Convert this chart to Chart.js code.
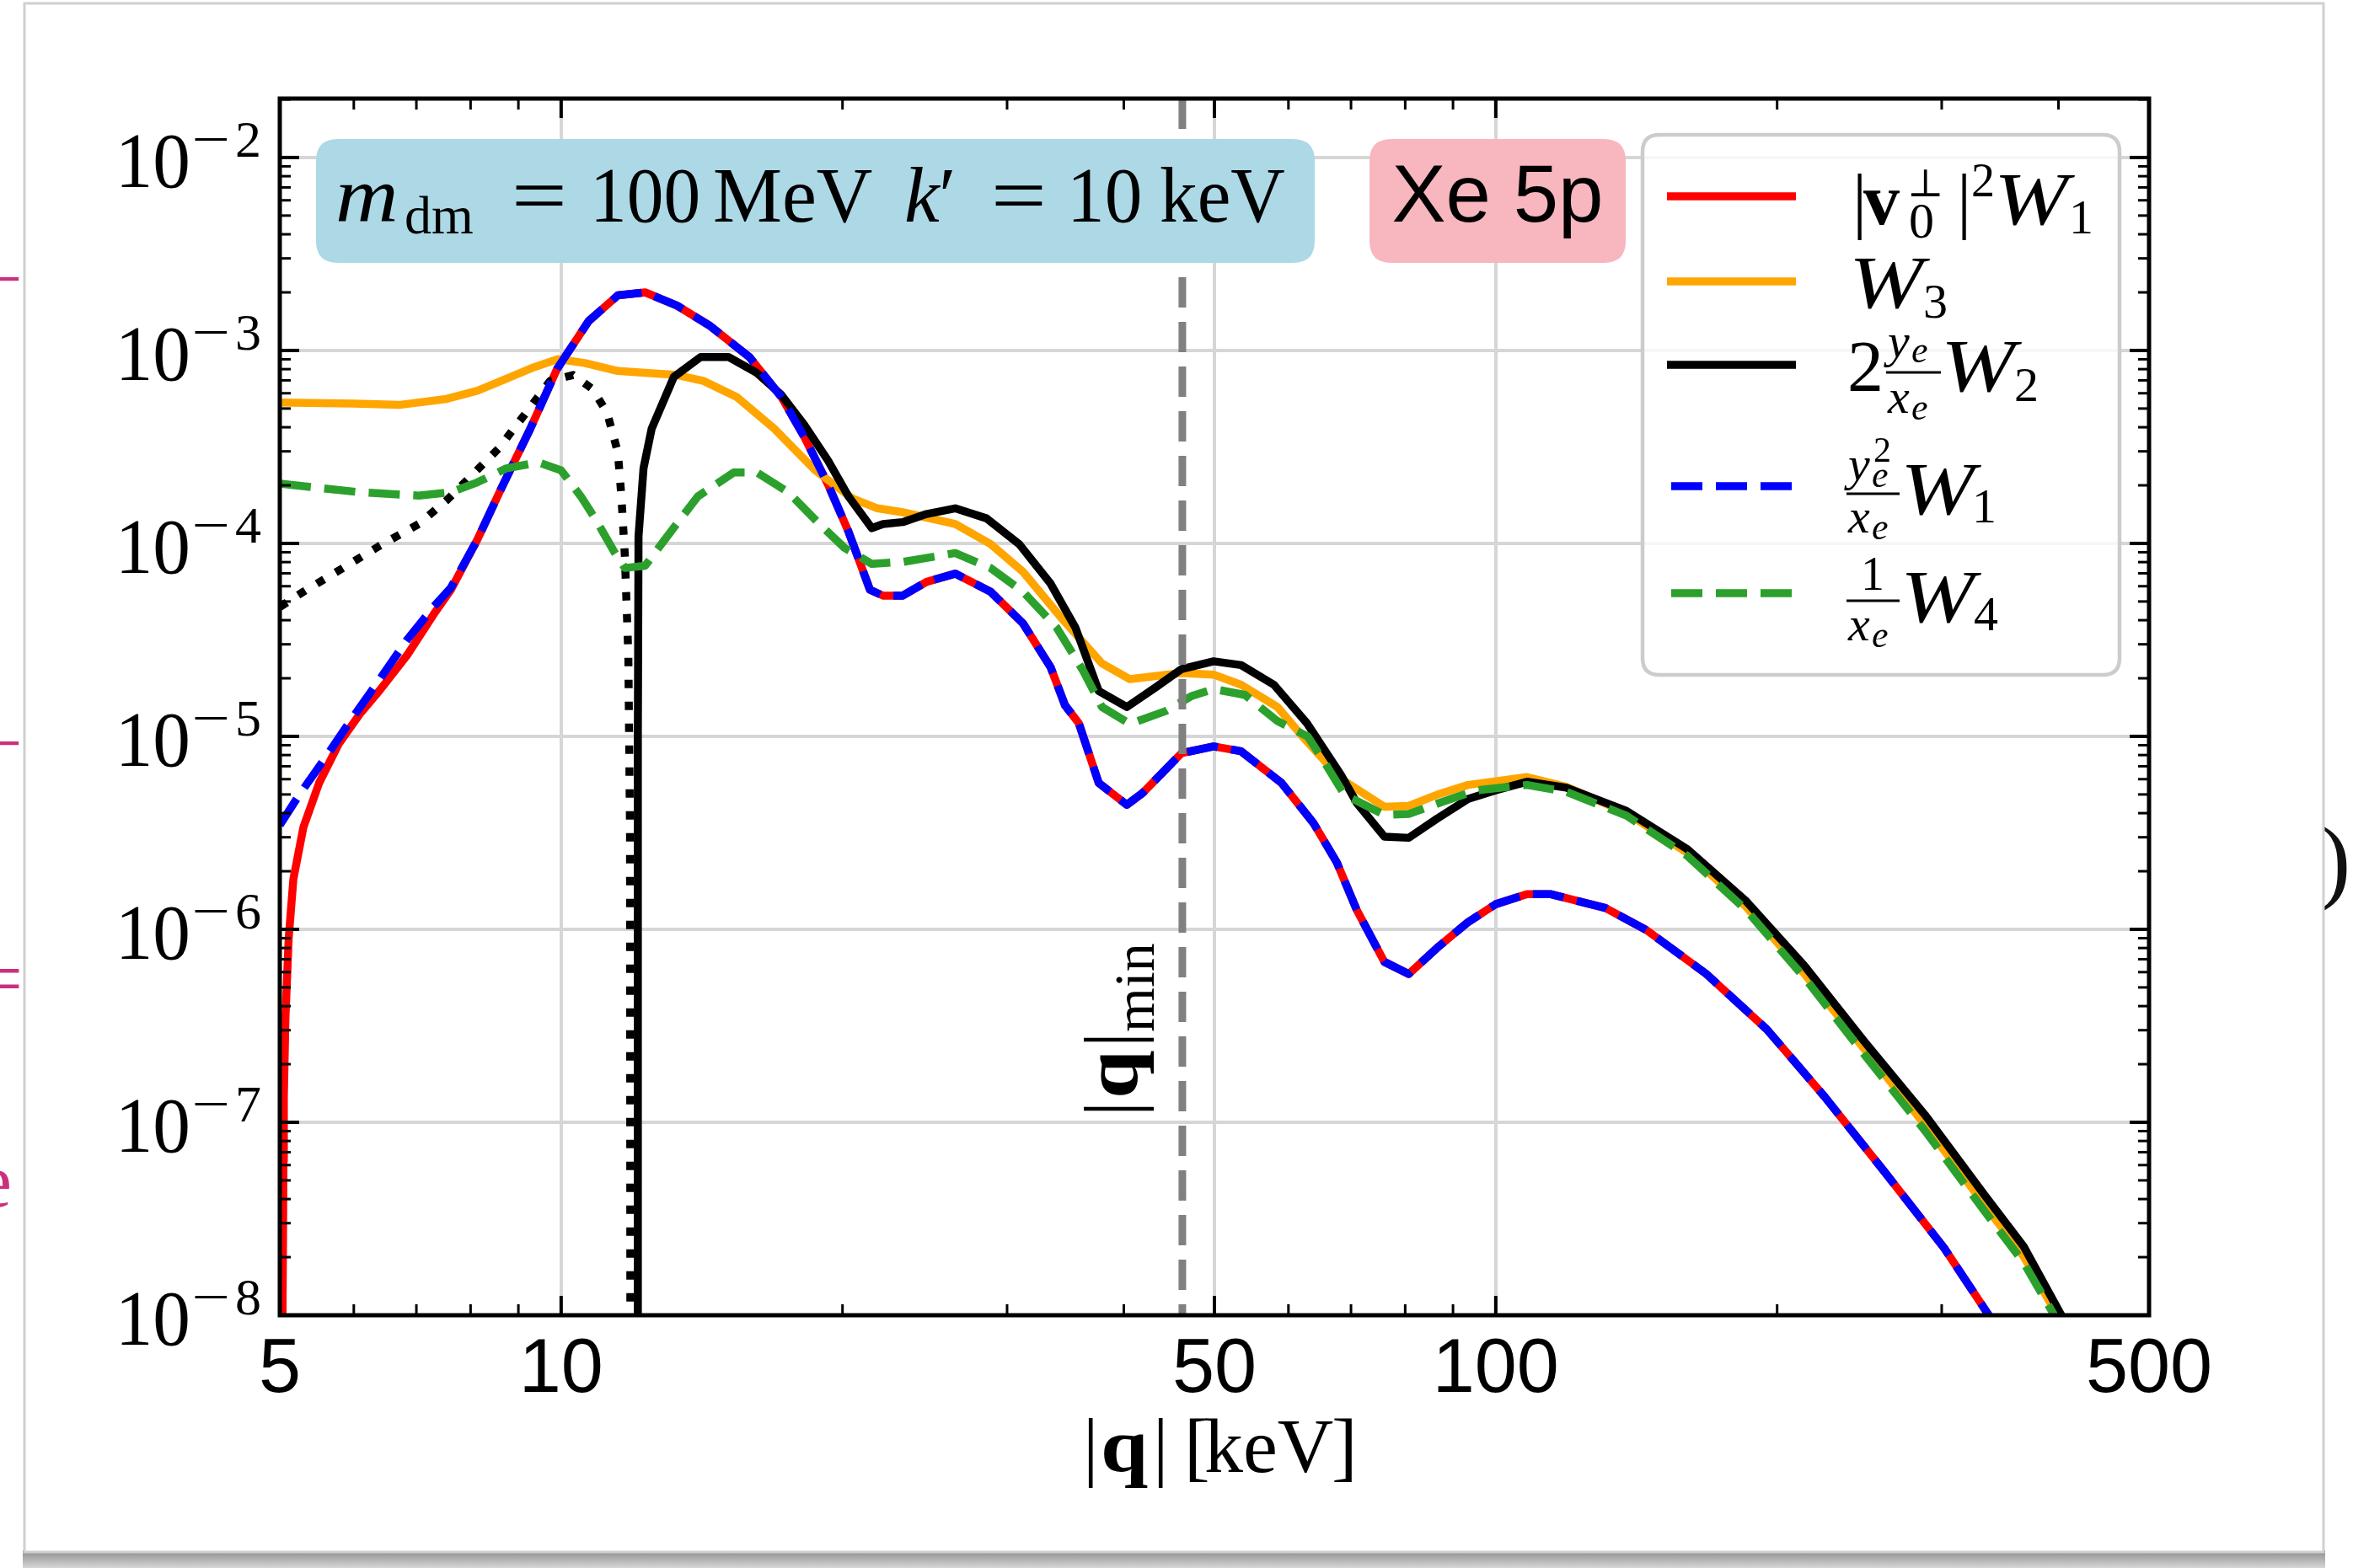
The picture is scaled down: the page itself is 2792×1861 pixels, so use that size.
<!DOCTYPE html>
<html>
<head>
<meta charset="utf-8">
<title>Xe 5p response functions</title>
<script src="https://cdn.jsdelivr.net/npm/chart.js@4.4.0/dist/chart.umd.min.js"></script>
<style>
  html, body { margin: 0; padding: 0; background: #ffffff; overflow: hidden; }
  canvas { display: block; }
</style>
</head>
<body>
<canvas id="plot" width="2792" height="1861"></canvas>
<script>
// |q| in keV and the curve values
const qW1 = [8.13, 8.63, 9.27, 9.9, 10.7, 11.5, 12.3, 13.3, 14.4, 15.9, 17.2, 18.2, 19.3, 20.3, 21.4, 22.1, 23.2, 24.6, 26.4, 28.8, 31.2, 33.4, 34.6, 35.8, 37.6, 40.3, 41.9, 46.1, 49.9, 53.4, 59, 63.8, 67.6, 71, 76, 80.7, 86.5, 93.4, 100, 108, 114.6, 131, 145, 168, 195, 225, 261, 302, 336, 345];
const w1 = [1.04e-4, 1.93e-4, 3.94e-4, 8.02e-4, 1.42e-3, 1.93e-3, 2.0e-3, 1.71e-3, 1.35e-3, 9.25e-4, 5.75e-4, 3.57e-4, 2.02e-4, 1.15e-4, 5.75e-5, 5.36e-5, 5.36e-5, 6.32e-5, 6.97e-5, 5.62e-5, 3.85e-5, 2.28e-5, 1.45e-5, 1.17e-5, 5.73e-6, 4.42e-6, 5.09e-6, 8.18e-6, 8.87e-6, 8.37e-6, 5.73e-6, 3.56e-6, 2.22e-6, 1.26e-6, 6.78e-7, 5.87e-7, 8.0e-7, 1.09e-6, 1.35e-6, 1.52e-6, 1.52e-6, 1.29e-6, 9.9e-7, 5.87e-7, 3.03e-7, 1.35e-7, 5.48e-8, 2.22e-8, 1.02e-8, 8.3e-9];

// low-q ends where |v0|^2 W1 and y^2/x W1 differ
const qRedLow = [5.03, 5.04, 5.045, 5.05, 5.07, 5.11, 5.17, 5.3, 5.51, 5.78, 6.1, 6.4, 6.84, 7.3, 7.62];
const redLow = [6.3e-9, 2.5e-8, 6.3e-8, 1.35e-7, 3.47e-7, 8.9e-7, 1.82e-6, 3.39e-6, 5.75e-6, 9.12e-6, 1.32e-5, 1.74e-5, 2.63e-5, 4.27e-5, 5.75e-5];
const qBlueLow = [5.0, 5.25, 5.62, 5.96, 6.3, 6.84, 7.3, 7.62];
const blueLow = [3.47e-6, 5.01e-6, 8.0e-6, 1.22e-5, 1.78e-5, 3.16e-5, 4.68e-5, 5.89e-5];

const qW3 = [5.0, 6.0, 6.71, 7.54, 8.13, 8.7, 9.36, 9.92, 10.6, 11.5, 12.4, 13.3, 14.2, 15.4, 16.9, 18.7, 20.5, 21.8, 23.2, 26.4, 28.8, 31.2, 34.4, 37.9, 40.6, 46.1, 49.9, 53.4, 58.4, 62, 68.3, 76, 80.7, 86.5, 93.4, 108, 119, 138, 160, 185, 214, 248, 288, 333, 367, 397, 408];
const w3 = [5.37e-4, 5.3e-4, 5.22e-4, 5.61e-4, 6.17e-4, 7.08e-4, 8.2e-4, 9.02e-4, 8.61e-4, 7.83e-4, 7.64e-4, 7.46e-4, 6.95e-4, 5.75e-4, 3.94e-4, 2.39e-4, 1.71e-4, 1.52e-4, 1.45e-4, 1.26e-4, 9.93e-5, 7.13e-5, 4.04e-5, 2.39e-5, 1.98e-5, 2.13e-5, 2.09e-5, 1.85e-5, 1.42e-5, 1.01e-5, 6.01e-6, 4.32e-6, 4.36e-6, 4.98e-6, 5.6e-6, 6.15e-6, 5.47e-6, 4.02e-6, 2.5e-6, 1.32e-6, 5.87e-7, 2.39e-7, 9.68e-8, 3.75e-8, 2.02e-8, 1.04e-8, 8.3e-9];

const qW2 = [12.07, 12.08, 12.1, 12.25, 12.5, 13.2, 14.1, 15.1, 16.2, 17.2, 18.2, 19.3, 20.3, 21.5, 22.1, 23.2, 24.6, 26.4, 28.5, 30.9, 33.4, 35.5, 37.6, 40.3, 43.3, 46.1, 49.9, 53.4, 57.9, 62.8, 68.3, 71, 76, 80.7, 86.5, 93.4, 100, 108, 119, 138, 160, 185, 214, 248, 288, 333, 367, 401, 412];
const w2 = [6.3e-9, 1.0e-5, 1.09e-4, 2.45e-4, 3.94e-4, 7.29e-4, 9.25e-4, 9.25e-4, 7.64e-4, 5.89e-4, 4.12e-4, 2.69e-4, 1.75e-4, 1.2e-4, 1.26e-4, 1.29e-4, 1.42e-4, 1.52e-4, 1.35e-4, 9.93e-5, 6.18e-5, 3.66e-5, 1.72e-5, 1.42e-5, 1.8e-5, 2.23e-5, 2.45e-5, 2.34e-5, 1.85e-5, 1.17e-5, 6.31e-6, 4.52e-6, 3.02e-6, 2.98e-6, 3.74e-6, 4.74e-6, 5.26e-6, 5.82e-6, 5.42e-6, 4.11e-6, 2.62e-6, 1.41e-6, 6.46e-7, 2.62e-7, 1.09e-7, 4.23e-8, 2.28e-8, 1.04e-8, 8.3e-9];

// negative part of 2 y/x W2, drawn dotted as its absolute value
const qW2neg = [5.0, 5.3, 5.8, 6.39, 7.04, 7.54, 8.0, 8.57, 9.17, 9.73, 10.3, 10.8, 11.2, 11.5, 11.6, 11.7, 11.8, 11.85, 11.86];
const w2neg = [4.68e-5, 5.62e-5, 7.3e-5, 9.7e-5, 1.26e-4, 1.67e-4, 2.22e-4, 3.1e-4, 4.75e-4, 6.95e-4, 7.46e-4, 6.32e-4, 4.75e-4, 2.96e-4, 1.75e-4, 8.6e-5, 2.63e-5, 3.16e-6, 6.3e-9];

const qW4 = [5.0, 6.1, 7.04, 7.62, 8.13, 8.74, 9.45, 10.0, 10.5, 10.9, 11.4, 11.7, 12.3, 13.1, 14.0, 15.3, 16.2, 17.5, 18.9, 20.1, 21.5, 23.2, 26.4, 28.8, 31.2, 33.9, 36.2, 37.9, 40.6, 44.3, 47.3, 49.9, 53.9, 58.4, 62.9, 65.7, 68.9, 76, 80.7, 87, 95.5, 108, 119, 138, 160, 185, 214, 248, 288, 333, 367, 394, 405];
const w4 = [2.04e-4, 1.84e-4, 1.77e-4, 1.84e-4, 2.07e-4, 2.45e-4, 2.63e-4, 2.39e-4, 1.75e-4, 1.32e-4, 9.03e-5, 7.46e-5, 7.66e-5, 1.15e-4, 1.75e-4, 2.33e-4, 2.33e-4, 1.84e-4, 1.26e-4, 9.48e-5, 7.83e-5, 8.02e-5, 8.91e-5, 7.46e-5, 5.62e-5, 3.66e-5, 2.18e-5, 1.42e-5, 1.16e-5, 1.35e-5, 1.62e-5, 1.76e-5, 1.64e-5, 1.2e-5, 1.0e-5, 7.24e-6, 4.98e-6, 3.92e-6, 3.96e-6, 4.52e-6, 5.26e-6, 5.6e-6, 5.16e-6, 3.88e-6, 2.42e-6, 1.27e-6, 5.61e-7, 2.24e-7, 9.02e-8, 3.49e-8, 1.88e-8, 1.04e-8, 8.3e-9];

const qMin = 46.2;

const xRange = [5, 500];
const yRange = [1e-8, 2.02e-2];
const xTicks = [5, 10, 50, 100, 500];
const xTickLabels = ['5', '10', '50', '100', '500'];
const xMinorTicks = [6, 7, 8, 9, 20, 30, 40, 60, 70, 80, 90, 200, 300, 400];
const yTicks = [1e-8, 1e-7, 1e-6, 1e-5, 1e-4, 1e-3, 1e-2];
const yTickExps = ['8', '7', '6', '5', '4', '3', '2'];

const SERIF = '"Liberation Serif", "DejaVu Serif", serif';
const SANS = '"Liberation Sans", Arial, sans-serif';

function serif(size, style) { return (style || '') + ' ' + size + 'px ' + SERIF; }
function sans(size) { return size + 'px ' + SANS; }

function pts(qs, vs) {
    return qs.map((q, i) => ({ x: q, y: vs[i] }));
}

function txt(ctx, s, x, y, font, opts) {
    opts = opts || {};
    ctx.save();
    ctx.font = font;
    ctx.fillStyle = opts.color || '#000';
    ctx.textAlign = opts.align || 'left';
    ctx.textBaseline = 'alphabetic';
    ctx.translate(x, y);
    if (opts.sx) ctx.scale(opts.sx, 1);
    ctx.fillText(s, 0, 0);
    ctx.restore();
}

function roundRect(ctx, x, y, w, h, r) {
    ctx.beginPath();
    ctx.moveTo(x + r, y);
    ctx.lineTo(x + w - r, y);
    ctx.quadraticCurveTo(x + w, y, x + w, y + r);
    ctx.lineTo(x + w, y + h - r);
    ctx.quadraticCurveTo(x + w, y + h, x + w - r, y + h);
    ctx.lineTo(x + r, y + h);
    ctx.quadraticCurveTo(x, y + h, x, y + h - r);
    ctx.lineTo(x, y + r);
    ctx.quadraticCurveTo(x, y, x + r, y);
    ctx.closePath();
}

function line(ctx, x1, y1, x2, y2) {
    ctx.beginPath();
    ctx.moveTo(x1, y1);
    ctx.lineTo(x2, y2);
    ctx.stroke();
}

// slide behind the figure and the white card
function drawPage(ctx) {
    ctx.save();
    ctx.fillStyle = '#ffffff';
    ctx.fillRect(0, 0, 2792, 1861);
    txt(ctx, '\u2212', -24, 361, serif(90), { color: '#cc2f7e' });
    txt(ctx, '\u2212', -24, 912, serif(90), { color: '#cc2f7e' });
    txt(ctx, '=', -24, 1192, serif(90), { color: '#cc2f7e' });
    txt(ctx, 'e', -26, 1432, serif(90), { color: '#cc2f7e' });
    txt(ctx, ')', 2752, 1058, serif(112), { color: '#111' });
    const g = ctx.createLinearGradient(0, 1840, 0, 1861);
    g.addColorStop(0, '#8c8c8c');
    g.addColorStop(1, '#d6d6d6');
    ctx.fillStyle = g;
    ctx.fillRect(27, 1840, 2732, 21);
    ctx.fillStyle = '#ffffff';
    ctx.fillRect(29, 4, 2728, 1838);
    ctx.strokeStyle = '#d0d0d0';
    ctx.lineWidth = 3;
    ctx.strokeRect(29, 4, 2728, 1838);
    ctx.restore();
}

function drawFrame(ctx, chart) {
    const a = chart.chartArea;
    const xs = chart.scales.x, ys = chart.scales.y;
    ctx.save();
    ctx.strokeStyle = '#000';
    ctx.lineCap = 'butt';
    ctx.lineWidth = 4;
    xTicks.forEach(v => {
        const px = xs.getPixelForValue(v);
        line(ctx, px, a.bottom, px, a.bottom - 23);
        line(ctx, px, a.top, px, a.top + 23);
    });
    yTicks.forEach(v => {
        const py = ys.getPixelForValue(v);
        line(ctx, a.left, py, a.left + 23, py);
        line(ctx, a.right, py, a.right - 23, py);
    });
    ctx.lineWidth = 3;
    xMinorTicks.forEach(v => {
        const px = xs.getPixelForValue(v);
        line(ctx, px, a.bottom, px, a.bottom - 13);
        line(ctx, px, a.top, px, a.top + 13);
    });
    yTicks.forEach(v => {
        for (let k = 2; k <= 9; k++) {
            const val = v * k;
            if (val >= yRange[1]) continue;
            const py = ys.getPixelForValue(val);
            line(ctx, a.left, py, a.left + 13, py);
            line(ctx, a.right, py, a.right - 13, py);
        }
    });
    ctx.lineWidth = 5;
    ctx.strokeRect(a.left, a.top, a.right - a.left, a.bottom - a.top);
    ctx.restore();
}

function drawTickLabels(ctx, chart) {
    const xs = chart.scales.x, ys = chart.scales.y;
    xTicks.forEach((v, i) => {
        txt(ctx, xTickLabels[i], xs.getPixelForValue(v), 1652, sans(90), { align: 'center' });
    });
    yTicks.forEach((v, i) => {
        const py = ys.getPixelForValue(v);
        txt(ctx, yTickExps[i], 310, py - 1, serif(62), { align: 'right' });
        txt(ctx, '\u2212', 273, py - 1, serif(62), { align: 'right', sx: 1.3 });
        txt(ctx, '10', 226, py + 35, serif(94), { align: 'right', sx: 0.95 });
    });
}

function drawAxisTitle(ctx) {
    txt(ctx, '|', 1285, 1747, serif(92));
    txt(ctx, 'q', 1306, 1747, serif(92, 'bold'), { sx: 1.1 });
    txt(ctx, '|', 1368, 1747, serif(92));
    txt(ctx, '[', 1405, 1747, serif(92));
    txt(ctx, 'keV', 1429, 1747, serif(92));
    txt(ctx, ']', 1580, 1747, serif(92));
}

function drawQminLabel(ctx) {
    ctx.save();
    ctx.translate(1350, 1319);
    ctx.rotate(-Math.PI / 2);
    txt(ctx, '|', -6, 0, serif(90));
    txt(ctx, 'q', 15, 0, serif(90, 'bold'), { sx: 1.15 });
    txt(ctx, '|', 76, 0, serif(90));
    txt(ctx, 'min', 94, 19, serif(68));
    ctx.restore();
}

function drawInfoBoxes(ctx) {
    ctx.save();
    roundRect(ctx, 375, 165, 1185, 147, 26);
    ctx.fillStyle = '#add8e6';
    ctx.fill();
    roundRect(ctx, 1625, 165, 304, 147, 26);
    ctx.fillStyle = '#f8b6be';
    ctx.fill();
    ctx.restore();

    txt(ctx, 'm', 398, 263, serif(94, 'italic'), { sx: 1.1 });
    txt(ctx, 'dm', 480, 277, serif(64));
    txt(ctx, '=', 640, 263, serif(94), { align: 'center', sx: 1.25 });
    txt(ctx, '100', 700, 263, serif(94), { sx: 0.93 });
    txt(ctx, 'MeV', 846, 263, serif(94), { sx: 0.98 });
    txt(ctx, 'k', 1073, 263, serif(94, 'italic'));
    txt(ctx, '\u2032', 1114, 263, serif(94));
    txt(ctx, '=', 1209, 263, serif(94), { align: 'center', sx: 1.25 });
    txt(ctx, '10', 1266, 263, serif(94), { sx: 0.95 });
    txt(ctx, 'keV', 1376, 263, serif(94), { sx: 0.95 });

    txt(ctx, 'Xe 5p', 1777, 263, sans(96), { align: 'center' });
}

function frac(ctx, x0, x1, yBar, num, den) {
    ctx.save();
    ctx.strokeStyle = '#000';
    ctx.lineWidth = 3;
    line(ctx, x0, yBar, x1, yBar);
    ctx.restore();
    num();
    den();
}

function drawLegend(ctx, chart) {
    ctx.save();
    roundRect(ctx, 1949, 160, 566, 641, 20);
    ctx.fillStyle = 'rgba(255,255,255,0.8)';
    ctx.fill();
    ctx.lineWidth = 4.5;
    ctx.strokeStyle = '#cccccc';
    ctx.stroke();

    const rows = [233, 334, 433, 577, 704];
    rows.forEach((y, i) => {
        const ds = chart.data.datasets[i];
        ctx.strokeStyle = ds.borderColor;
        ctx.lineWidth = ds.borderWidth;
        ctx.lineCap = 'butt';
        if (ds.borderDash && ds.borderDash.length) {
            ctx.setLineDash(ds.borderDash);
            line(ctx, 1983, y, 2131, y);
            ctx.setLineDash([]);
        } else {
            line(ctx, 1978, y, 2131, y);
        }
    });
    ctx.restore();

    const W = serif(88, 'italic');
    const sub = serif(58);

    // |v0^perp|^2 W1
    txt(ctx, '|', 2198, 266, serif(86));
    txt(ctx, 'v', 2211, 266, serif(86, 'bold'));
    txt(ctx, '\u22a5', 2263, 233, serif(46));
    txt(ctx, '0', 2265, 282, serif(60));
    txt(ctx, '|', 2322, 266, serif(86));
    txt(ctx, '2', 2339, 233, serif(56));
    txt(ctx, 'W', 2366, 266, W, { sx: 1.2 });
    txt(ctx, '1', 2455, 277, sub);

    // W3
    txt(ctx, 'W', 2194, 365, W, { sx: 1.2 });
    txt(ctx, '3', 2282, 377, sub);

    // 2 y/x W2
    txt(ctx, '2', 2192, 464, serif(86));
    frac(ctx, 2238, 2303, 442,
        () => { txt(ctx, 'y', 2240, 424, serif(58, 'italic')); txt(ctx, 'e', 2268, 430, serif(44, 'italic')); },
        () => { txt(ctx, 'x', 2240, 490, serif(58, 'italic')); txt(ctx, 'e', 2268, 498, serif(44, 'italic')); });
    txt(ctx, 'W', 2303, 464, W, { sx: 1.2 });
    txt(ctx, '2', 2390, 476, sub);

    // y^2/x W1
    frac(ctx, 2191, 2254, 586,
        () => { txt(ctx, 'y', 2193, 570, serif(58, 'italic')); txt(ctx, 'e', 2221, 578, serif(44, 'italic')); txt(ctx, '2', 2223, 548, serif(42)); },
        () => { txt(ctx, 'x', 2193, 632, serif(58, 'italic')); txt(ctx, 'e', 2221, 640, serif(44, 'italic')); });
    txt(ctx, 'W', 2255, 610, W, { sx: 1.2 });
    txt(ctx, '1', 2340, 620, sub);

    // 1/x W4
    frac(ctx, 2191, 2254, 713,
        () => { txt(ctx, '1', 2208, 700, serif(56)); },
        () => { txt(ctx, 'x', 2193, 760, serif(58, 'italic')); txt(ctx, 'e', 2221, 768, serif(44, 'italic')); });
    txt(ctx, 'W', 2255, 738, W, { sx: 1.2 });
    txt(ctx, '4', 2342, 748, sub);
}

const figurePlugin = {
    id: 'figure',
    beforeDraw(chart) {
        drawPage(chart.ctx);
    },
    afterDraw(chart) {
        const ctx = chart.ctx;
        drawFrame(ctx, chart);
        drawTickLabels(ctx, chart);
        drawAxisTitle(ctx);
        drawQminLabel(ctx);
        drawInfoBoxes(ctx);
        drawLegend(ctx, chart);
    }
};

const base = { pointRadius: 0, fill: false, tension: 0, clip: 0, borderCapStyle: 'butt', borderJoinStyle: 'round' };

const datasets = [
    Object.assign({}, base, { label: '|v\u2080\u22a5|\u00b2W\u2081', data: pts(qRedLow.concat(qW1), redLow.concat(w1)), borderColor: '#ff0000', borderWidth: 9.5, order: 6 }),
    Object.assign({}, base, { label: 'W\u2083', data: pts(qW3, w3), borderColor: '#ffa500', borderWidth: 9.5, order: 5 }),
    Object.assign({}, base, { label: '2 y\u2091/x\u2091 W\u2082', data: pts(qW2, w2), borderColor: '#000000', borderWidth: 9.5, order: 4 }),
    Object.assign({}, base, { label: 'y\u2091\u00b2/x\u2091 W\u2081', data: pts(qBlueLow.concat(qW1), blueLow.concat(w1)), borderColor: '#0000ff', borderWidth: 9.5, borderDash: [37, 16], order: 2 }),
    Object.assign({}, base, { label: '1/x\u2091 W\u2084', data: pts(qW4, w4), borderColor: '#2ca02c', borderWidth: 9.5, borderDash: [37, 16], order: 1 }),
    Object.assign({}, base, { label: '\u2212 2 y\u2091/x\u2091 W\u2082', data: pts(qW2neg, w2neg), borderColor: '#000000', borderWidth: 9.5, borderDash: [10, 16], order: 3 }),
    Object.assign({}, base, { label: '|q|min', data: [{ x: qMin, y: yRange[1] }, { x: qMin, y: yRange[0] }], borderColor: '#808080', borderWidth: 9, borderDash: [36, 17], order: 0 })
];

new Chart(document.getElementById('plot').getContext('2d'), {
    type: 'line',
    data: { datasets: datasets },
    options: {
        responsive: false,
        animation: false,
        devicePixelRatio: 1,
        events: [],
        layout: { padding: { left: 332, right: 242, top: 117, bottom: 300 } },
        plugins: { legend: { display: false }, tooltip: { enabled: false } },
        scales: {
            x: {
                type: 'logarithmic',
                min: xRange[0],
                max: xRange[1],
                afterBuildTicks: s => { s.ticks = xTicks.map(v => ({ value: v })); },
                afterFit: s => { s.height = 0; },
                ticks: { display: false },
                border: { display: false },
                grid: { color: '#d6d6d6', lineWidth: 4, drawTicks: false }
            },
            y: {
                type: 'logarithmic',
                min: yRange[0],
                max: yRange[1],
                afterBuildTicks: s => { s.ticks = yTicks.map(v => ({ value: v })); },
                afterFit: s => { s.width = 0; },
                ticks: { display: false },
                border: { display: false },
                grid: { color: '#d6d6d6', lineWidth: 4, drawTicks: false }
            }
        }
    },
    plugins: [figurePlugin]
});
</script>
</body>
</html>
